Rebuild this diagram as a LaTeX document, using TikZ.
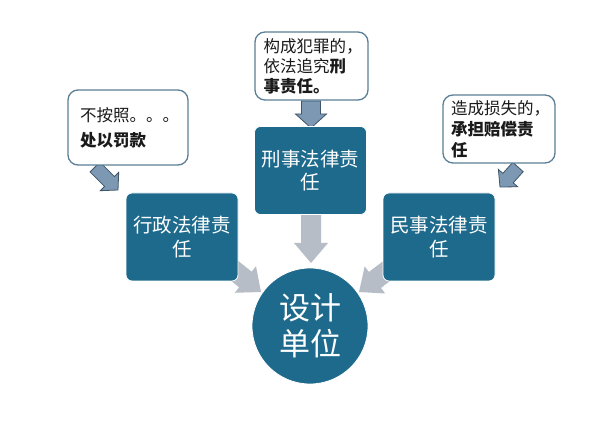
\documentclass[tikz,border=0pt]{standalone}
\usepackage{fontspec}
\setmainfont{Noto Sans CJK SC}
\usetikzlibrary{calc}
\definecolor{boxblue}{HTML}{1D6A8C}
\definecolor{grayarrow}{HTML}{B7BDC6}
\definecolor{smallarrow}{HTML}{7D98B3}
\definecolor{smallarrowedge}{HTML}{3F566A}
\definecolor{calloutedge}{HTML}{5B7E96}
\definecolor{txt}{HTML}{1A1A1A}
\newcommand\blockarr[6]{%
  \coordinate (ba-h) at ($(#3)!#6!(#2)$);
  \path[#1] ($(#2)!#4!90:(#3)$) -- ($(ba-h)!#4!90:(#3)$) -- ($(ba-h)!#5!90:(#3)$)
    -- (#3) -- ($(ba-h)!#5!-90:(#3)$) -- ($(ba-h)!#4!-90:(#3)$) -- ($(#2)!#4!-90:(#3)$) -- cycle;
}
\tikzset{
  bluebox/.style={rectangle, rounded corners=6pt, fill=boxblue, draw=white, line width=0.8pt,
    text=white, align=center, minimum width=112pt, minimum height=88pt,
    font=\fontsize{19.5}{23.5}\selectfont},
  unitcircle/.style={circle, fill=boxblue, draw=white, line width=0.8pt, text=white,
    align=center, minimum size=116pt, inner sep=0pt, font=\fontsize{31}{36}\selectfont},
  callout/.style={rectangle, rounded corners=10pt, fill=white, draw=calloutedge, line width=1.3pt,
    text=txt, align=left, text width=96pt, inner xsep=0pt},
  bigarrow/.style={fill=grayarrow},
  tinyarrow/.style={fill=smallarrow, draw=smallarrowedge, line width=0.8pt, line join=miter},
}
\begin{document}
\begin{tikzpicture}[x=1pt,y=-1pt]
\useasboundingbox[fill=white] (0,0) rectangle (616,430);
% connector end points
\coordinate (g1s) at (226,264); \coordinate (g1e) at (261,292);
\coordinate (g2s) at (311,214); \coordinate (g2e) at (311,263);
\coordinate (g3s) at (396,264); \coordinate (g3e) at (359,292);
\coordinate (c1s) at (95,167);  \coordinate (c1e) at (118,190);
\coordinate (c2s) at (311,101); \coordinate (c2e) at (311,128);
\coordinate (c3s) at (518,167); \coordinate (c3e) at (500,187);
% gray arrows
\blockarr{bigarrow}{g1s}{g1e}{10pt}{17pt}{20pt}
\blockarr{bigarrow}{g2s}{g2e}{10pt}{17pt}{20pt}
\blockarr{bigarrow}{g3s}{g3e}{10pt}{17pt}{20pt}
% callout arrows
\blockarr{tinyarrow}{c1s}{c1e}{7pt}{13pt}{12pt}
\blockarr{tinyarrow}{c2s}{c2e}{9.5pt}{15.5pt}{14pt}
\blockarr{tinyarrow}{c3s}{c3e}{7pt}{13pt}{12pt}
% boxes
\node[bluebox] (admin) at (182,237) {行政法律责\\任};
\node[bluebox] (crim) at (310.5,170.5) {刑事法律责\\任};
\node[bluebox] (civil) at (439,237) {民事法律责\\任};
\node[unitcircle] (unit) at (310,326) {设计\\单位};
% callouts
\node[callout, minimum width=120pt, minimum height=75pt, font=\fontsize{16.5}{25}\selectfont] (note1) at (128,127.5)
  {不按照。。。\\\textbf{处以罚款}};
\node[callout, minimum width=113pt, minimum height=68pt, font=\fontsize{16.5}{20}\selectfont] (note2) at (311.5,66)
  {构成犯罪的，\\依法追究\textbf{刑}\\\textbf{事责任。}};
\node[callout, minimum width=112pt, minimum height=68pt, font=\fontsize{16.5}{21}\selectfont] (note3) at (499,129)
  {造成损失的，\\\textbf{承担赔偿责}\\\textbf{任}};
\end{tikzpicture}
\end{document}
